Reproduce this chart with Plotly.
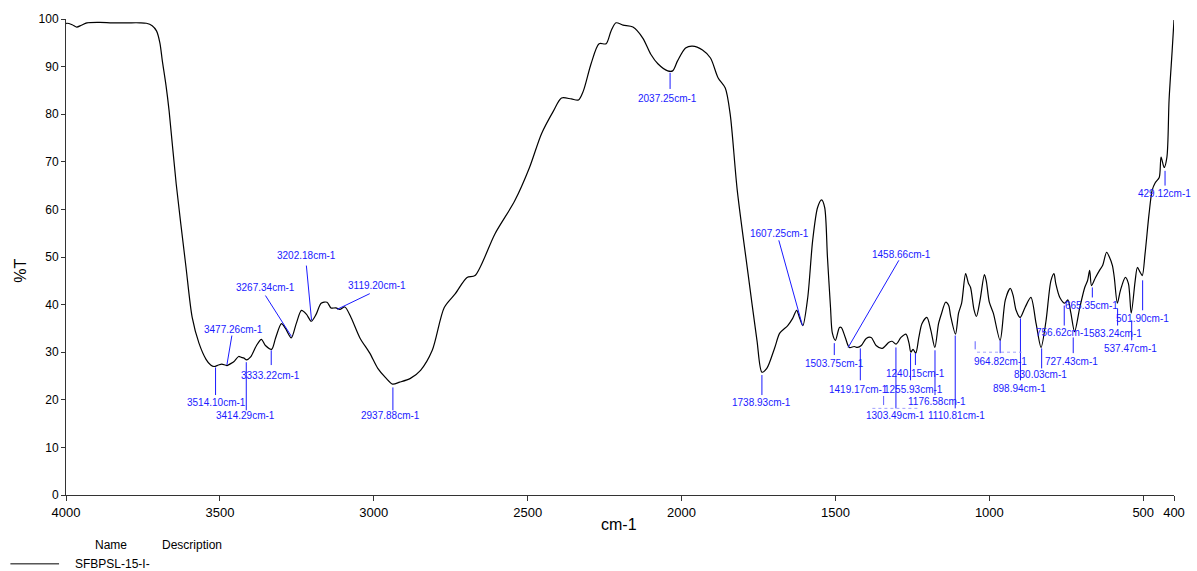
import plotly.graph_objects as go

# FTIR transmittance spectrum (wavenumber in cm-1, transmittance in %T)
wavenumber = [
    4000, 3998, 3980, 3965, 3950, 3932, 3890, 3850, 3800, 3760, 3739, 3720, 3706, 3695,
    3687, 3675, 3665, 3642, 3610, 3590, 3568, 3545, 3530, 3519, 3505, 3494, 3477, 3465,
    3455, 3439, 3430, 3423, 3413, 3400, 3381, 3365, 3352, 3332, 3319, 3300, 3287, 3268,
    3252, 3235, 3219, 3203, 3187, 3171, 3152, 3139, 3123, 3110, 3094, 3074, 3045, 3013,
    2987, 2961, 2939, 2916, 2881, 2848, 2810, 2771, 2735, 2697, 2671, 2606, 2542, 2494,
    2455, 2416, 2390, 2358, 2335, 2319, 2294, 2268, 2245, 2229, 2213, 2190, 2158, 2126,
    2100, 2077, 2045, 2029, 2013, 1987, 1965, 1932, 1906, 1881, 1858, 1842, 1819, 1784,
    1755, 1739, 1723, 1697, 1681, 1655, 1639, 1626, 1616, 1606, 1590, 1574, 1558, 1545,
    1535, 1526, 1516, 1510, 1500, 1487, 1481, 1468, 1455, 1439, 1429, 1416, 1400, 1384,
    1368, 1348, 1326, 1316, 1303, 1287, 1271, 1261, 1255, 1248, 1239, 1229, 1219, 1203,
    1190, 1177, 1165, 1155, 1142, 1132, 1126, 1110, 1100, 1090, 1077, 1068, 1061, 1050,
    1042, 1030, 1016, 1010, 1000, 987, 965, 948, 932, 923, 913, 900, 884, 865,
    848, 832, 816, 800, 790, 784, 771, 755, 745, 735, 723, 706, 690, 681,
    674, 668, 655, 642, 632, 619, 610, 600, 594, 584, 574, 558, 548, 539,
    526, 519, 510, 503, 494, 481, 471, 461, 448, 442, 432, 423, 416, 406, 400,
]
transmittance = [
    99.0, 99.1, 98.8, 98.3, 98.7, 99.2, 99.3, 99.2, 99.2, 99.2, 99.1, 98.6, 97.5, 95.0,
    91.2, 86.0, 80.7, 65.4, 47.8, 37.3, 31.9, 28.5, 27.3, 27.0, 27.3, 27.5, 27.2, 27.6,
    28.0, 29.1, 28.9, 28.8, 28.4, 29.0, 31.4, 32.7, 31.4, 30.6, 33.0, 36.0, 35.0, 33.0,
    36.0, 38.8, 38.0, 36.5, 38.0, 40.3, 40.5, 39.3, 39.3, 39.0, 39.5, 37.3, 33.0, 29.8,
    26.6, 24.6, 23.3, 23.7, 24.5, 26.2, 30.4, 39.4, 42.3, 45.7, 46.1, 54.9, 61.8, 68.8,
    75.9, 80.7, 83.4, 83.2, 83.0, 84.9, 90.6, 94.8, 94.8, 97.5, 99.2, 98.7, 98.3, 96.0,
    92.6, 90.6, 89.1, 89.1, 91.2, 93.9, 94.3, 93.5, 91.8, 87.6, 85.5, 80.0, 64.0, 46.5,
    32.5, 25.8, 26.6, 31.0, 34.0, 35.6, 37.1, 38.8, 37.1, 35.6, 41.5, 53.5, 60.4, 62.0,
    60.4, 50.0, 39.4, 34.0, 32.5, 35.2, 35.2, 33.1, 31.0, 31.2, 31.0, 31.4, 32.9, 33.1,
    31.4, 30.8, 32.1, 32.3, 31.7, 33.1, 33.8, 31.9, 30.0, 30.6, 29.8, 33.1, 36.0, 37.3,
    34.6, 31.0, 36.0, 38.2, 40.5, 39.8, 37.7, 33.8, 38.2, 40.3, 46.5, 44.5, 43.6, 39.0,
    37.5, 41.0, 46.3, 45.0, 40.5, 38.2, 32.5, 41.0, 43.4, 42.0, 38.8, 37.3, 39.4, 41.5,
    36.0, 31.0, 36.5, 45.0, 46.5, 44.4, 41.5, 40.3, 41.0, 38.2, 34.3, 39.4, 43.6, 45.0,
    47.2, 44.0, 45.7, 47.2, 48.2, 51.0, 50.0, 48.2, 45.7, 40.3, 43.0, 45.7, 44.4, 38.2,
    45.1, 47.8, 46.8, 46.1, 50.7, 59.1, 64.0, 65.6, 66.7, 71.0, 68.8, 71.0, 83.0, 93.3, 99.8,
]

# Peak annotations: value, leader tip %T, leader end (cm-1, %T), label centre (cm-1, %T)
peak_values = [3514.10, 3414.29, 3477.26, 3333.22, 3267.34, 3202.18, 3119.20, 2937.88,
               2037.25, 1738.93, 1607.25, 1458.66, 1503.75, 1419.17, 1255.93, 1240.15,
               1303.49, 1176.58, 1110.81, 964.82, 898.94, 830.03, 756.62, 727.43,
               665.35, 583.24, 537.47, 501.90, 429.12]
tip_t = [26.8, 27.9, 27.3, 30.4, 33.3, 36.7, 39.0, 22.6,
         88.7, 25.2, 35.6, 31.0, 31.9, 30.8, 29.8, 29.8,
         31.0, 30.4, 33.5, 32.5, 37.1, 30.8, 39.8, 33.1,
         43.6, 39.2, 36.7, 45.1, 68.1]
end_wn = [3514.10, 3414.29, 3461, 3333.22, 3352, 3219, 3013, 2937.88,
          2037.25, 1738.93, 1684, 1294, 1503.75, 1419.17, 1255.93, 1240.15,
          1303.49, 1176.58, 1110.81, 964.82, 898.94, 830.03, 756.62, 727.43,
          665.35, 583.24, 537.47, 501.90, 429.12]
end_t = [21.0, 17.8, 33.5, 27.3, 41.9, 48.2, 42.3, 17.8,
         85.3, 21.0, 53.5, 49.3, 29.4, 24.1, 24.1, 27.3,
         18.2, 21.0, 18.2, 29.8, 24.1, 26.6, 35.6, 29.8,
         41.5, 35.6, 32.5, 38.8, 65.0]
label_wn = [3510, 3416, 3455, 3335, 3352, 3219, 2990, 2945,
            2045, 1739, 1681, 1287, 1503, 1426, 1248, 1239,
            1306, 1171, 1106, 965, 903, 835, 761, 732,
            668, 590, 542, 503, 432]
label_t = [19.5, 16.6, 34.8, 25.2, 43.6, 50.3, 44.0, 16.6,
           83.4, 19.5, 54.9, 50.5, 27.7, 22.2, 22.2, 25.6,
           16.8, 19.7, 16.8, 28.1, 22.4, 25.4, 34.2, 28.1,
           39.8, 34.0, 30.8, 37.1, 63.3]

x_ticks = [4000, 3500, 3000, 2500, 2000, 1500, 1000, 500, 400]
y_ticks = [0, 10, 20, 30, 40, 50, 60, 70, 80, 90, 100]

FONT = "Liberation Sans, Arial, sans-serif"
BLUE = "#1a1aff"

fig = go.Figure()

fig.add_trace(go.Scatter(
    x=wavenumber, y=transmittance, mode="lines",
    line=dict(color="black", width=1.2, shape="spline", smoothing=0.8),
    hoverinfo="x+y", showlegend=False,
))

# leader lines joined in one trace, separated by gaps
lx, ly = [], []
for v, t0, ex, ey in zip(peak_values, tip_t, end_wn, end_t):
    lx += [v, ex, None]
    ly += [t0, ey, None]
fig.add_trace(go.Scatter(
    x=lx, y=ly, mode="lines", line=dict(color=BLUE, width=1),
    hoverinfo="skip", showlegend=False,
))

annotations = []
for v, lxv, lyv in zip(peak_values, label_wn, label_t):
    annotations.append(dict(
        x=lxv, y=lyv, xref="x", yref="y", text=f"{v:.2f}cm-1", showarrow=False,
        font=dict(family=FONT, size=10, color=BLUE), xanchor="center", yanchor="middle",
    ))


def paper_text(px, py, text, size, **kw):
    """Text placed by page pixel position around the plot area (66..1182, 18..495)."""
    opts = dict(x=(px - 66) / 1116, y=(495 - py) / 477, xref="paper", yref="paper",
                text=text, showarrow=False, xanchor="center", yanchor="middle",
                font=dict(family=FONT, size=size, color="black"))
    opts.update(kw)
    return opts


annotations.append(paper_text(623, 525, "cm-1", 16))
annotations.append(paper_text(20, 270, "%T", 16, textangle=-90))
annotations.append(paper_text(111, 545, "Name", 12))
annotations.append(paper_text(193, 545, "Description", 12))
annotations.append(paper_text(73, 564, "SFBPSL-15-I-", 12, xanchor="left"))

shapes = [
    dict(type="line", xref="paper", yref="paper", x0=(10 - 66) / 1116, x1=(59 - 66) / 1116,
         y0=(495 - 564) / 477, y1=(495 - 564) / 477, line=dict(color="black", width=1)),
    # faint overlapped labels
    dict(type="line", xref="x", yref="y", x0=1040, x1=895, y0=30.0, y1=30.0,
         line=dict(color="#a0a0ff", width=1, dash="dot")),
    dict(type="line", xref="x", yref="y", x0=1046, x1=1046, y0=30.6, y1=32.3,
         line=dict(color="#6060ff", width=1)),
    dict(type="line", xref="x", yref="y", x0=1380, x1=1225, y0=18.2, y1=18.2,
         line=dict(color="#a0a0ff", width=1, dash="dot")),
    dict(type="line", xref="x", yref="y", x0=1343.5, x1=1343.5, y0=18.9, y1=20.8,
         line=dict(color="#6060ff", width=1)),
]

fig.update_layout(
    width=1197, height=571,
    margin=dict(l=66, r=15, t=18, b=76),
    paper_bgcolor="white", plot_bgcolor="white",
    annotations=annotations, shapes=shapes,
    showlegend=False,
    xaxis=dict(
        range=[4000, 400], tickvals=x_ticks, ticktext=[str(t) for t in x_ticks],
        showgrid=False, zeroline=False, showline=True, linecolor="#333333", linewidth=1,
        ticks="outside", ticklen=5, tickcolor="#333333",
        tickfont=dict(family=FONT, size=13, color="black"),
    ),
    yaxis=dict(
        range=[0, 100], tickvals=y_ticks,
        showgrid=False, zeroline=False, showline=True, linecolor="#333333", linewidth=1,
        ticks="outside", ticklen=4, tickcolor="#333333",
        tickfont=dict(family=FONT, size=12, color="black"),
    ),
)

fig.write_html("out.html")
